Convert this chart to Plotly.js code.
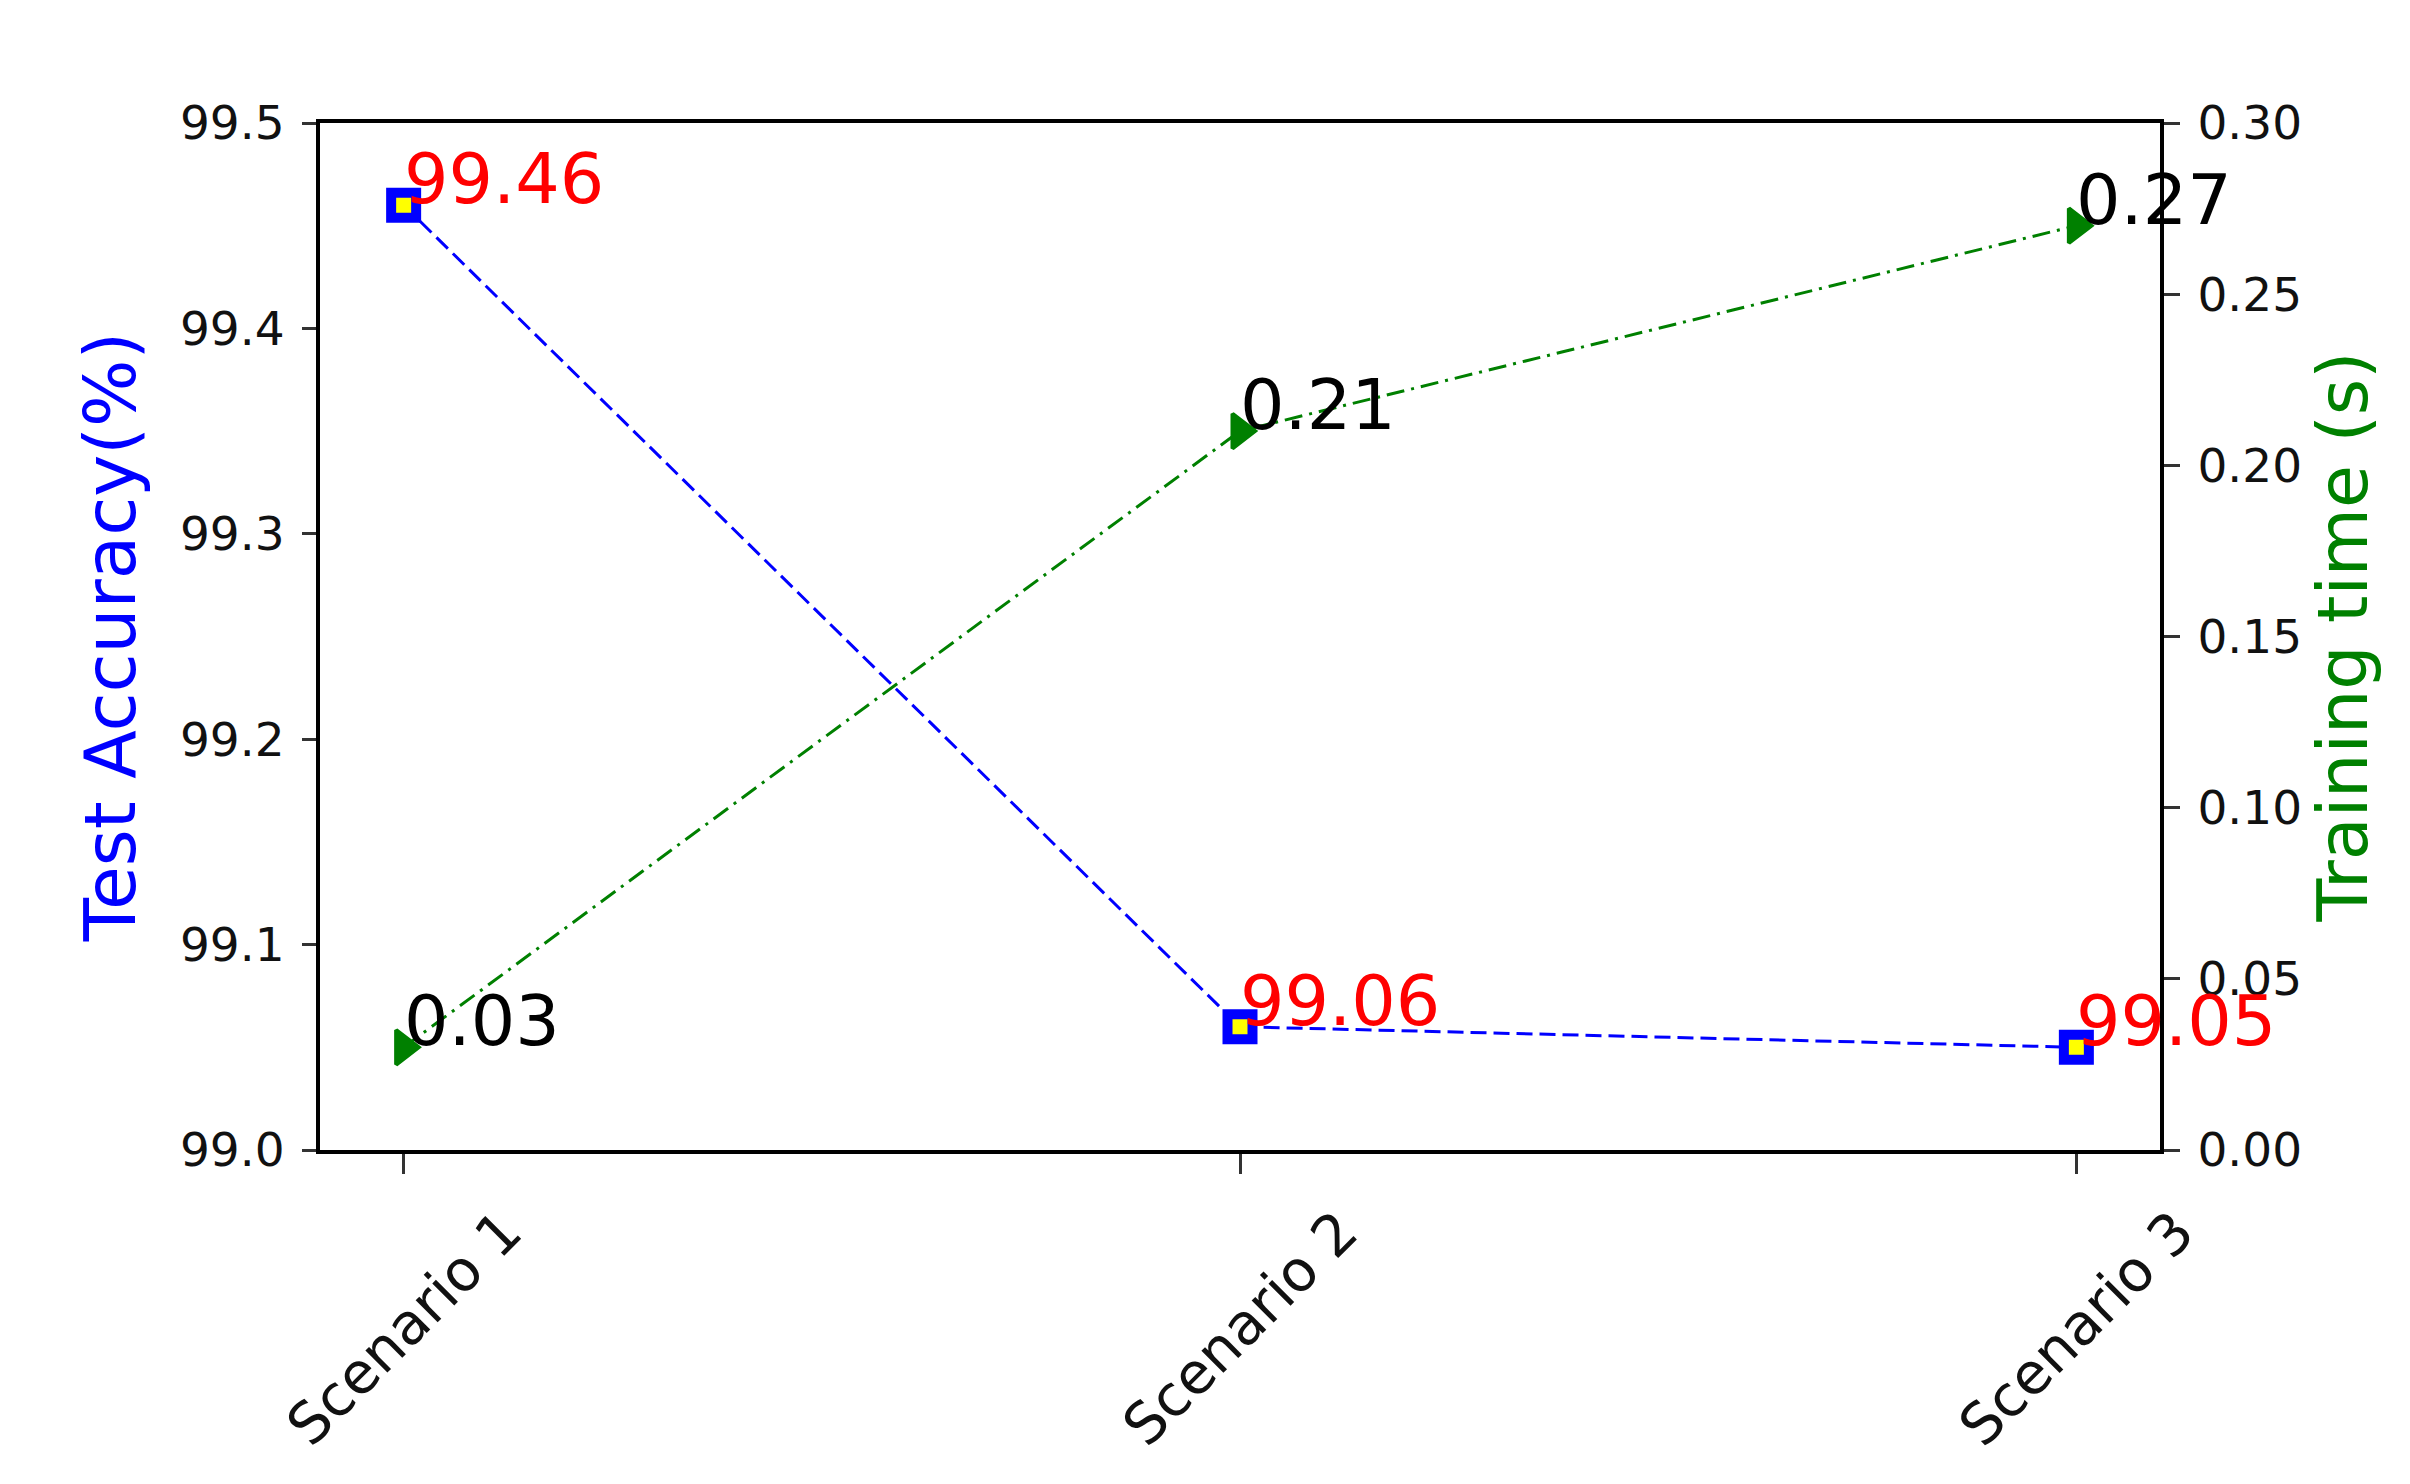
<!DOCTYPE html>
<html>
<head>
<meta charset="utf-8">
<script src="https://cdn.plot.ly/plotly-3.0.1.min.js"></script>
<style>
  html, body { margin: 0; padding: 0; background: #fff; }
  #chart { width: 2410px; height: 1484px; }
</style>
</head>
<body>
<div id="chart"></div>
<script>
// Data
const scenarios = ['Scenario 1', 'Scenario 2', 'Scenario 3'];
const testAccuracy = [99.46, 99.06, 99.05];
const trainingTime = [0.03, 0.21, 0.27];

const FONT = 'DejaVu Sans, Liberation Sans, sans-serif';

const accTrace = {
    x: scenarios,
    y: testAccuracy,
    type: 'scatter',
    mode: 'lines+markers',
    yaxis: 'y',
    line: { color: '#0000ff', width: 3, dash: '16px,7px' },
    marker: {
        symbol: 'square',
        size: 25,
        color: '#ffff00',
        line: { color: '#0000ff', width: 10 }
    },
    cliponaxis: false,
    showlegend: false
};

const timeTrace = {
    x: scenarios,
    y: trainingTime,
    type: 'scatter',
    mode: 'lines+markers',
    yaxis: 'y2',
    line: { color: '#008000', width: 3, dash: '18px,7px,3px,7px' },
    marker: {
        symbol: 'triangle-right',
        size: 30,
        color: '#008000',
        line: { color: '#008000', width: 4 }
    },
    cliponaxis: false,
    showlegend: false
};

// value labels next to each point (text starts at the point, baseline on it)
const annotations = [];
scenarios.forEach((s, i) => {
    annotations.push({
        x: s, y: testAccuracy[i], xref: 'x', yref: 'y',
        text: testAccuracy[i].toFixed(2),
        showarrow: false, xanchor: 'left', yanchor: 'bottom',
        xshift: -2, yshift: -17,
        font: { family: FONT, size: 70, color: '#ff0000' }
    });
    annotations.push({
        x: s, y: trainingTime[i], xref: 'x', yref: 'y2',
        text: trainingTime[i].toFixed(2),
        showarrow: false, xanchor: 'left', yanchor: 'bottom',
        xshift: -2, yshift: -17,
        font: { family: FONT, size: 70, color: '#000000' }
    });
    // rotated category labels, centred under the tick like matplotlib
    annotations.push({
        x: s, y: -0.044, xref: 'x', yref: 'paper',
        text: s, textangle: -45,
        showarrow: false, xanchor: 'center', yanchor: 'top',
        font: { family: FONT, size: 57, color: '#111111' }
    });
});

const layout = {
    width: 2410,
    height: 1484,
    margin: { l: 320, r: 250, t: 123, b: 334 },
    paper_bgcolor: '#ffffff',
    plot_bgcolor: '#ffffff',
    font: { family: FONT, color: '#111111' },
    xaxis: {
        type: 'category',
        range: [-0.1, 2.1],
        showgrid: false,
        zeroline: false,
        showline: true,
        mirror: true,
        linecolor: '#000000',
        linewidth: 4,
        ticks: 'outside',
        ticklen: 20,
        tickwidth: 3,
        tickcolor: '#333333',
        showticklabels: false
    },
    yaxis: {
        range: [99.0, 99.5],
        dtick: 0.1,
        tickformat: '.1f',
        showgrid: false,
        zeroline: false,
        showline: true,
        linecolor: '#000000',
        linewidth: 4,
        ticks: 'outside',
        ticklen: 14,
        tickwidth: 3,
        tickcolor: '#333333',
        ticklabelstandoff: 8,
        tickfont: { family: FONT, size: 47, color: '#111111' },
        title: {
            text: 'Test Accuracy(%)',
            standoff: 22,
            font: { family: FONT, size: 71, color: '#0000ff' }
        }
    },
    yaxis2: {
        overlaying: 'y',
        side: 'right',
        range: [0, 0.30],
        dtick: 0.05,
        tickformat: '.2f',
        showgrid: false,
        zeroline: false,
        showline: true,
        linecolor: '#000000',
        linewidth: 4,
        ticks: 'outside',
        ticklen: 16,
        tickwidth: 3,
        tickcolor: '#333333',
        ticklabelstandoff: 8,
        tickfont: { family: FONT, size: 47, color: '#111111' },
        title: {
            text: 'Training time (s)',
            standoff: 12,
            font: { family: FONT, size: 70, color: '#008000' }
        }
    },
    annotations: annotations
};

Plotly.newPlot('chart', [accTrace, timeTrace], layout, { displayModeBar: false, staticPlot: true });
</script>
</body>
</html>
